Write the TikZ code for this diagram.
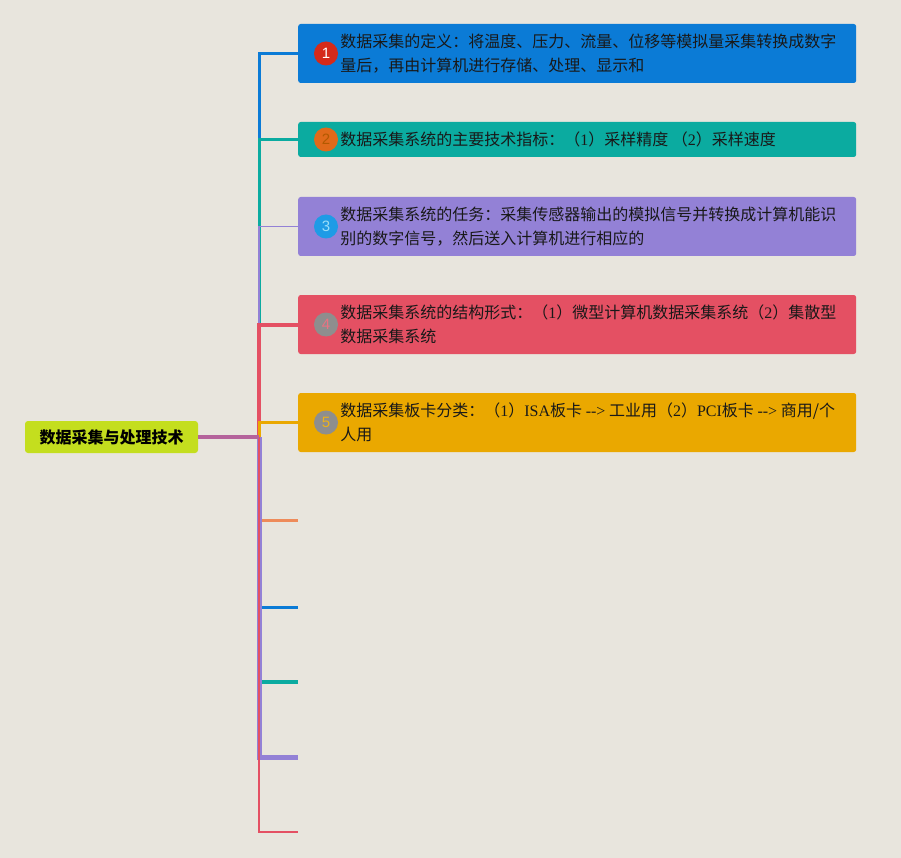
\documentclass[tikz,border=0pt]{standalone}
\usepackage{fontspec}
\setmainfont{Liberation Serif}
\setsansfont{Liberation Sans}
\newfontfamily\cjk{Noto Sans CJK SC}
\usetikzlibrary{positioning}
\definecolor{paper}{HTML}{E8E5DD}
\definecolor{rootgreen}{HTML}{C4DE1E}
\definecolor{rootlink}{HTML}{B5639B}
\definecolor{mmblue}{HTML}{0B7BD6}
\definecolor{mmteal}{HTML}{0BABA0}
\definecolor{mmpurple}{HTML}{9381D6}
\definecolor{mmred}{HTML}{E45063}
\definecolor{mmamber}{HTML}{EAA800}
\definecolor{mmorange}{HTML}{EE8B5A}
\definecolor{numred}{HTML}{D52A1A}
\definecolor{numorange}{HTML}{E06A1A}
\definecolor{numblue}{HTML}{1E9BE6}
\definecolor{numgray}{HTML}{8E8E8E}
\newcommand{\lt}[1]{{\rmfamily #1}}
\newcommand{\larrow}{\lt{-{}-{}>}}

\begin{document}
\begin{tikzpicture}[
  x=1pt, y=-1pt,
  root/.style = {
    fill=rootgreen, rounded corners=3pt, minimum width=173pt, minimum height=32pt,
    inner sep=0pt, font=\cjk\fontsize{16}{18}\selectfont\bfseries
  },
  topic/.style = {
    anchor=west, rounded corners=2.5pt, minimum width=558pt, inner sep=0pt
  },
  num/.style = {
    circle, minimum size=24pt, inner sep=0pt, font=\sffamily\fontsize{15}{15}\selectfont
  },
  txt/.style = {
    right=2pt of #1, inner sep=0pt, align=left, text=black!90,
    font=\cjk\fontsize{16}{24}\selectfont
  },
  link/.style = {line width=3pt},
]

\fill[paper] (0,0) rectangle (901,858);

\node[root] (root) at (111.5,437) {数据采集与处理技术};
\coordinate (trunk) at (259,437);

% topics with text
\node[topic, fill=mmblue,   minimum height=59pt] (b1) at (298,53.5) {};
\node[topic, fill=mmteal,   minimum height=35pt] (b2) at (298,139.5) {};
\node[topic, fill=mmpurple, minimum height=59pt] (b3) at (298,226.5) {};
\node[topic, fill=mmred,    minimum height=59pt] (b4) at (298,324.5) {};
\node[topic, fill=mmamber,  minimum height=59pt] (b5) at (298,422.5) {};

\node[num, fill=numred, text=white]              (n1) at ([xshift=28pt]b1.west) {1};
\node[num, fill=numorange, text=orange!70!black] (n2) at ([xshift=28pt]b2.west) {2};
\node[num, fill=numblue, text=cyan!40!white]     (n3) at ([xshift=28pt]b3.west) {3};
\node[num, fill=numgray, text=mmred!80]          (n4) at ([xshift=28pt]b4.west) {4};
\node[num, fill=numgray, text=mmamber!90]        (n5) at ([xshift=28pt]b5.west) {5};

\node[txt=n1] (t1) {数据采集的定义：将温度、压力、流量、位移等模拟量采集转换成数字\\量后，再由计算机进行存储、处理、显示和};
\node[txt=n2] (t2) {数据采集系统的主要技术指标：（\lt{1}）采样精度\ （\lt{2}）采样速度};
\node[txt=n3] (t3) {数据采集系统的任务：采集传感器输出的模拟信号并转换成计算机能识\\别的数字信号，然后送入计算机进行相应的};
\node[txt=n4] (t4) {数据采集系统的结构形式：（\lt{1}）微型计算机数据采集系统（\lt{2}）集散型\\数据采集系统};
\node[txt=n5] (t5) {数据采集板卡分类：（\lt{1}）\lt{ISA}板卡 \larrow{} 工业用（\lt{2}）\lt{PCI}板卡 \larrow{} 商用/个\\人用};

% empty topics
\coordinate (e6)  at (298,520);
\coordinate (e7)  at (298,607);
\coordinate (e8)  at (298,682);
\coordinate (e9)  at (298,757);
\coordinate (e10) at (298,832);

% connectors
\draw[link, draw=mmblue]                       (trunk) |- (b1.west);
\draw[link, draw=mmteal]                       (trunk) |- (b2.west);
\draw[link, draw=mmpurple, line width=1.5pt]   (trunk) |- (b3.west);
\draw[link, draw=mmred, line width=4pt]        (trunk) |- (b4.west);
\draw[link, draw=mmamber]                      (trunk) |- (b5.west);
\draw[link, draw=mmorange]                     (trunk) |- (e6);
\draw[link, draw=mmblue]                       (trunk) |- (e7);
\draw[link, draw=mmteal, line width=3.5pt]     (trunk) |- (e8);
\draw[link, draw=mmpurple, line width=5pt]     (trunk) |- (e9);
\draw[link, draw=mmred, line width=1.5pt]      (trunk) |- (e10);
\draw[link, draw=rootlink, line width=4pt]     (root) -- (trunk);

\end{tikzpicture}
\end{document}
